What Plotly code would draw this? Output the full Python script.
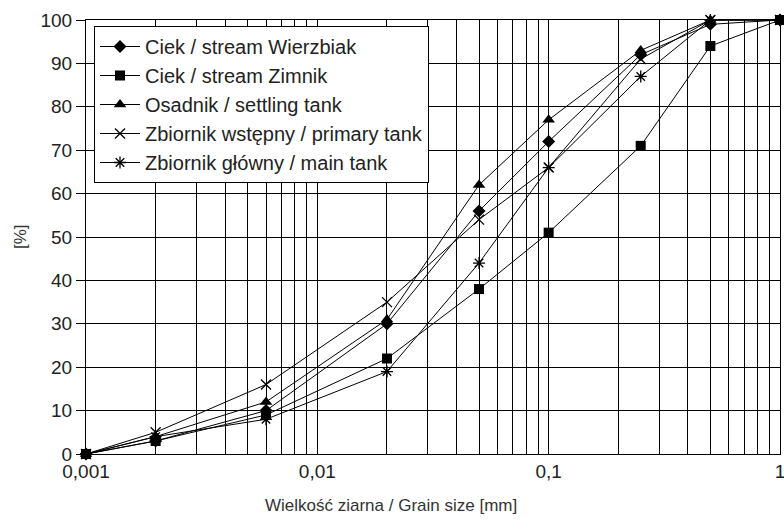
import plotly.graph_objects as go

grain_size = [0.001, 0.002, 0.006, 0.02, 0.05, 0.1, 0.25, 0.5, 1]

wierzbiak = [0, 3, 10, 30, 56, 72, 92, 99, 100]
zimnik = [0, 3, 9, 22, 38, 51, 71, 94, 100]
osadnik = [0, 4, 12, 31, 62, 77, 93, 100, 100]
primary_tank = [0, 5, 16, 35, 54, 66, 91, 100, 100]
main_tank = [0, 4, 8, 19, 44, 66, 87, 100, 100]

series_names = [
    "Ciek / stream Wierzbiak",
    "Ciek / stream Zimnik",
    "Osadnik / settling tank",
    "Zbiornik wstępny / primary tank",
    "Zbiornik główny / main tank",
]

y_ticks = [0, 10, 20, 30, 40, 50, 60, 70, 80, 90, 100]
x_grid = [m * 10 ** e for e in (-3, -2, -1) for m in range(1, 10)] + [1]
x_labels = {0.001: "0,001", 0.01: "0,01", 0.1: "0,1", 1: "1"}

styles = [
    dict(symbol="diamond", size=10),
    dict(symbol="square", size=10),
    dict(symbol="triangle-up", size=11),
    dict(symbol="x-thin-open", size=10, line=dict(width=1.3, color="black")),
    dict(symbol="asterisk-open", size=10, line=dict(width=1.3, color="black")),
]

data = [wierzbiak, zimnik, osadnik, primary_tank, main_tank]

fig = go.Figure()
for name, vals, st in zip(series_names, data, styles):
    fig.add_trace(go.Scatter(
        x=grain_size, y=vals, name=name, mode="lines+markers",
        line=dict(color="black", width=1),
        marker=dict(color="black", **st),
        cliponaxis=False,
    ))

ticktext = []
for v in x_grid:
    lab = ""
    for k, t in x_labels.items():
        if abs(v - k) < 1e-12:
            lab = t
    ticktext.append(lab)

txt = "#222"
L, R, T, B = 86, 4, 20, 72
W, H = 784, 526
pw = W - L - R
ph = H - T - B

fig.update_layout(
    width=W, height=H,
    margin=dict(l=L, r=R, t=T, b=B, autoexpand=False),
    paper_bgcolor="white", plot_bgcolor="white",
    font=dict(family="Liberation Sans, Arial, sans-serif", size=20, color=txt),
    showlegend=True,
    legend=dict(
        x=(94 - L) / pw, y=1 - (26 - T) / ph, xanchor="left", yanchor="top",
        bgcolor="white", bordercolor="black", borderwidth=1,
        font=dict(size=20, color=txt),
        tracegroupgap=0, itemwidth=40,
    ),
    xaxis=dict(
        type="log", range=[-3, 0], automargin=False,
        tickvals=x_grid, ticktext=ticktext,
        tickfont=dict(size=19, color=txt), ticklabeloverflow="allow",
        showgrid=True, gridcolor="black", gridwidth=1,
        showline=True, linecolor="black", linewidth=1, mirror=True,
        ticks="", zeroline=False,
    ),
    yaxis=dict(
        range=[0, 100], tickvals=y_ticks, automargin=False,
        tickfont=dict(size=19, color=txt), ticklabeloverflow="allow",
        showgrid=True, gridcolor="black", gridwidth=1,
        showline=True, linecolor="black", linewidth=1, mirror=True,
        ticks="outside", ticklen=9, tickcolor="black", zeroline=False,
    ),
    annotations=[
        dict(text="Wielkość ziarna / Grain size [mm]", x=(391 - L) / pw, y=(454 - 506) / ph,
             xref="paper", yref="paper", xanchor="center", yanchor="middle",
             showarrow=False, font=dict(size=17, color="#333")),
        dict(text="[%]", textangle=-90, x=(20 - L) / pw, y=(454 - 237) / ph,
             xref="paper", yref="paper", xanchor="center", yanchor="middle",
             showarrow=False, font=dict(size=17, color="#333")),
    ],
)

fig.write_html("out.html", config={"displayModeBar": False},
               post_script="document.body.style.margin='0';")
